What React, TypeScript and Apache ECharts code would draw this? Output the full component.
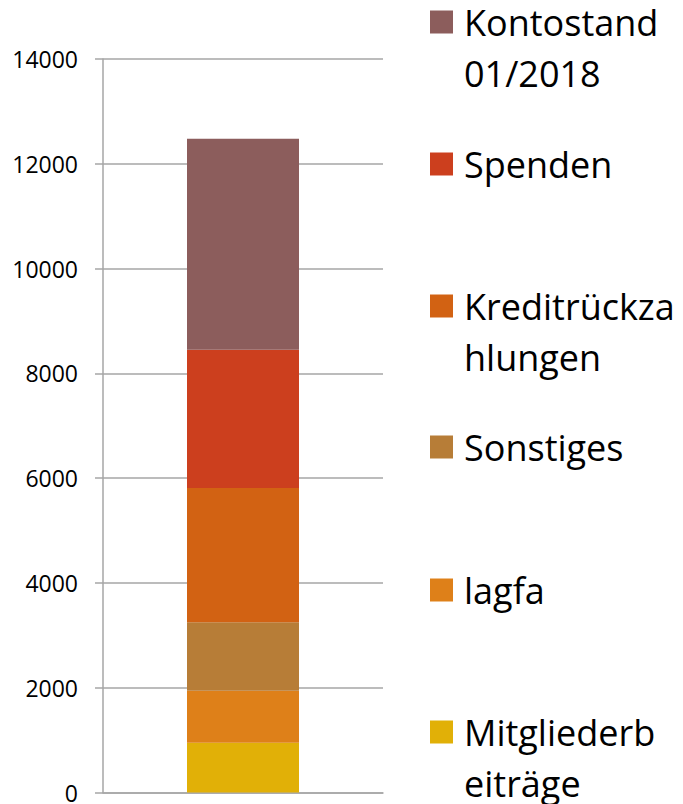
import React, { useEffect, useRef } from "react";
import * as echarts from "echarts";

const categories = [""];
const seriesNames = [
  "Mitgliederbeiträge",
  "lagfa",
  "Sonstiges",
  "Kreditrückzahlungen",
  "Spenden",
  "Kontostand 01/2018",
];
const mitgliederbeitraege = [950];
const lagfa = [990];
const sonstiges = [1310];
const kreditrueckzahlungen = [2560];
const spenden = [2640];
const kontostand = [4030];
const seriesValues = [mitgliederbeitraege, lagfa, sonstiges, kreditrueckzahlungen, spenden, kontostand];
const seriesColors = ["#E1B007", "#DE8019", "#B77D37", "#D26213", "#CC3F1E", "#8C5D5C"];
const legendLines: Record<string, string[]> = {
  "Kontostand 01/2018": ["Kontostand", "01/2018"],
  Spenden: ["Spenden"],
  Kreditrückzahlungen: ["Kreditrückza", "hlungen"],
  Sonstiges: ["Sonstiges"],
  lagfa: ["lagfa"],
  Mitgliederbeiträge: ["Mitgliederb", "eiträge"],
};
// legend order top to bottom with icon centre y
const legendOrder = ["Kontostand 01/2018", "Spenden", "Kreditrückzahlungen", "Sonstiges", "lagfa", "Mitgliederbeiträge"];
const legendCenters = [22, 164, 306, 447, 590, 732];

const FONT = "'Open Sans', sans-serif";
const LINE_H = 51;

export default function App() {
  const ref = useRef<HTMLDivElement>(null);
  useEffect(() => {
    if (!ref.current) return;
    const chart = echarts.init(ref.current, undefined, { renderer: "svg" });
    const legends = legendOrder.map((name, i) => {
      const lines = legendLines[name];
      const twoLine = lines.length > 1;
      const c = legendCenters[i];
      // two-line labels get an empty leading line so the first real line sits on the icon
      const shown = twoLine ? ["", ...lines] : lines;
      const top = c - (shown.length * LINE_H) / 2;
      return {
        data: [name],
        left: 430,
        top,
        padding: 0,
        orient: "vertical",
        icon: "rect",
        itemWidth: 23,
        itemHeight: 23,
        selectedMode: false,
        formatter: () => shown.join("\n"),
        textStyle: {
          fontFamily: FONT,
          fontSize: 36,
          color: "#000",
          lineHeight: LINE_H,
          padding: [0, 0, 0, 6],
        },
      };
    });
    chart.setOption({
      animation: false,
      backgroundColor: "#fff",
      legend: legends,
      grid: { left: 103, right: 300, top: 59, bottom: 8, containLabel: false },
      xAxis: {
        type: "category",
        data: categories,
        axisLine: { show: true, lineStyle: { color: "#a6a6a6", width: 1.5 } },
        axisTick: { show: false },
        axisLabel: { show: false },
        splitLine: { show: false },
      },
      yAxis: {
        type: "value",
        min: 0,
        max: 14000,
        interval: 2000,
        axisLine: { show: true, lineStyle: { color: "#a6a6a6", width: 1.5 } },
        axisTick: { show: true, length: 8, lineStyle: { color: "#a6a6a6", width: 1.5 } },
        axisLabel: {
          margin: 25,
          fontFamily: FONT,
          fontSize: 23,
          color: "#000",
          formatter: (v: number) => String(v),
        },
        splitLine: { show: true, lineStyle: { color: "#a6a6a6", width: 1.5 } },
      },
      series: seriesNames.map((name, i) => ({
        name,
        type: "bar",
        stack: "total",
        barWidth: 112,
        data: seriesValues[i],
        itemStyle: { color: seriesColors[i] },
      })),
    });
    return () => chart.dispose();
  }, []);
  return (
    <div
      ref={ref}
      style={{ position: "fixed", left: 0, top: 0, width: 683, height: 804, background: "#fff" }}
    />
  );
}
